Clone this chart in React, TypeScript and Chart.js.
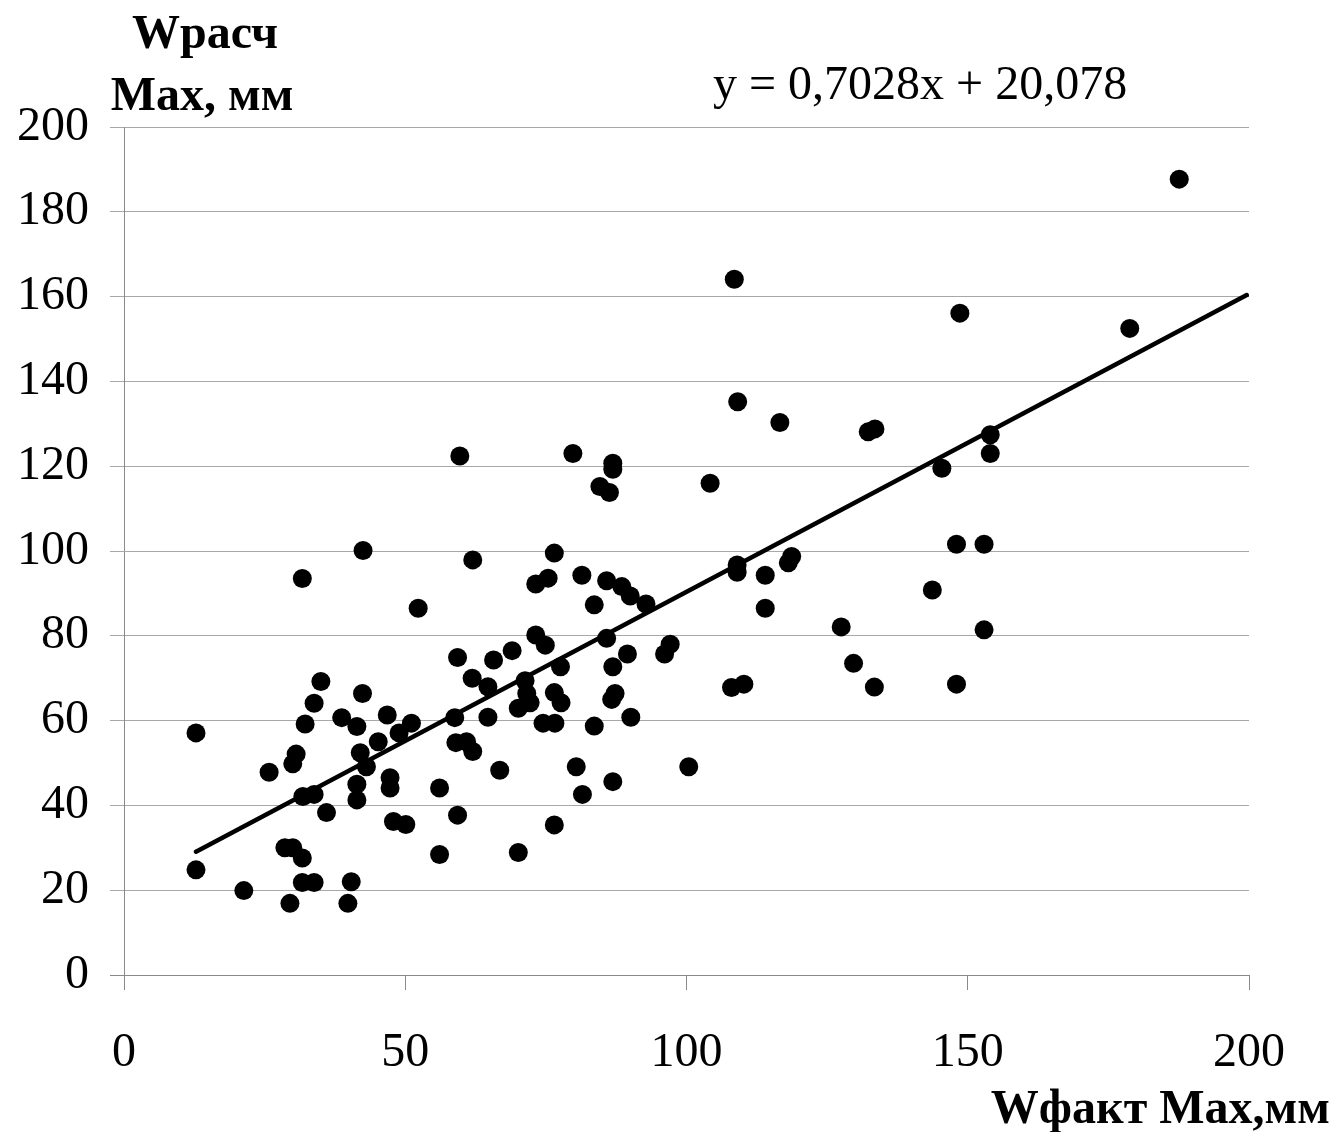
import React, { useEffect, useRef } from "react";
import { Chart, registerables } from "chart.js";

Chart.register(...registerables);

// Measured (Wфакт Max, мм)
const wFakt: number[] = [
  12.8, 12.8, 21.3, 25.8, 28.6, 30.0, 29.5, 30.0, 30.6, 31.7,
  31.7, 31.8, 31.7, 32.2, 33.8, 33.8, 33.8, 35.0, 36.0, 38.7,
  39.8, 40.4, 41.4, 41.4, 41.4, 42.0, 42.4, 42.5, 43.1, 45.2,
  46.8, 47.3, 47.3, 47.9, 48.9, 50.1, 51.1, 52.3, 56.1, 56.1,
  58.8, 59.3, 59.0, 59.3, 59.7, 60.9, 62.0, 61.9, 62.0, 64.7,
  64.7, 65.7, 66.8, 69.0, 70.1, 70.1, 71.3, 71.6, 72.2, 73.2,
  73.2, 74.5, 74.9, 75.4, 76.5, 76.5, 76.6, 76.5, 77.7, 77.6,
  79.8, 80.4, 81.4, 81.5, 83.6, 83.6, 84.6, 85.8, 85.8, 86.3,
  86.9, 86.9, 86.9, 86.7, 87.3, 86.9, 88.5, 90.0, 89.5, 90.1,
  92.8, 96.1, 97.1, 100.4, 104.2, 108.0, 108.5, 109.0, 109.0, 109.1,
  110.2, 114.0, 114.0, 116.6, 118.1, 118.7, 127.5, 129.7, 132.3, 133.5,
  133.4, 143.7, 145.4, 148.0, 148.0, 148.6, 152.9, 152.9, 154.0, 154.0,
  178.8, 187.6,
];

// Calculated (Wрасч Max, мм)
const wRasch: number[] = [
  57.1, 24.8, 19.9, 47.8, 30.0, 30.0, 16.9, 49.8, 52.1, 93.5,
  27.6, 42.1, 21.8, 59.2, 21.8, 64.1, 42.6, 69.2, 38.3, 60.7,
  16.9, 22.0, 58.6, 45.0, 41.3, 52.4, 66.4, 100.1, 49.1, 55.0,
  61.3, 46.5, 44.1, 36.2, 57.1, 35.5, 59.4, 86.5, 44.1, 28.4,
  60.7, 74.9, 54.8, 37.7, 122.4, 55.0, 97.9, 70.0, 52.7, 68.0,
  60.8, 74.3, 48.3, 76.5, 62.9, 28.9, 69.4, 66.4, 64.2, 92.2,
  80.2, 59.4, 77.8, 93.6, 66.6, 99.5, 59.4, 35.4, 64.2, 72.7,
  123.0, 49.1, 94.3, 42.6, 58.7, 87.3, 115.2, 93.0, 79.4, 113.8,
  119.3, 120.7, 72.7, 65.0, 66.4, 45.6, 91.6, 89.4, 75.7, 60.8,
  87.5, 75.7, 78.0, 49.1, 116.0, 67.8, 164.1, 96.7, 95.0, 135.2,
  68.6, 94.3, 86.5, 130.3, 97.2, 98.7, 82.1, 73.5, 128.1, 128.8,
  67.9, 90.8, 119.5, 101.6, 68.6, 156.1, 101.6, 81.4, 127.4, 123.0,
  152.5, 187.7,
];

// Linear trend line y = 0,7028x + 20,078
const trendSlope = 0.7028;
const trendIntercept = 20.078;
const trendRangeX: number[] = [12.8, 199.6];
const equationLabel = "y = 0,7028x + 20,078";

const xTicks: number[] = [0, 50, 100, 150, 200];
const yTicks: number[] = [0, 20, 40, 60, 80, 100, 120, 140, 160, 180, 200];

const yTitleLines: string[] = ["Wрасч", "Max, мм"];
const xTitle = "Wфакт Max,мм";

const FONT = '"Liberation Serif", "Times New Roman", serif';

const textPlugin = {
  id: "textLabels",
  afterDraw(chart: any) {
    const ctx = chart.ctx as CanvasRenderingContext2D;
    ctx.save();
    ctx.fillStyle = "#000";
    ctx.textBaseline = "alphabetic";
    // y title
    ctx.font = `bold 48px ${FONT}`;
    ctx.textAlign = "center";
    ctx.fillText(yTitleLines[0], 205, 48);
    ctx.fillText(yTitleLines[1], 202, 110);
    // x title
    ctx.textAlign = "right";
    ctx.fillText(xTitle, 1330, 1123);
    // equation
    ctx.font = `48px ${FONT}`;
    ctx.textAlign = "left";
    ctx.fillText(equationLabel, 713, 99);
    ctx.restore();
  },
};

export default function App() {
  const canvasRef = useRef<HTMLCanvasElement | null>(null);

  useEffect(() => {
    if (!canvasRef.current) return;
    const points = wFakt.map((x, i) => ({ x, y: wRasch[i] }));
    const trend = trendRangeX.map((x) => ({ x, y: trendSlope * x + trendIntercept }));

    const chart = new Chart(canvasRef.current, {
      type: "scatter",
      data: {
        datasets: [
          {
            label: "data",
            data: points,
            backgroundColor: "#000",
            borderColor: "#000",
            borderWidth: 0,
            pointRadius: 9.5,
            pointHoverRadius: 9.5,
            order: 2,
          },
          {
            label: "trend",
            data: trend,
            showLine: true,
            borderColor: "#000",
            borderWidth: 4.5,
            borderCapStyle: "round",
            pointRadius: 0,
            pointHoverRadius: 0,
            fill: false,
            order: 1,
          } as any,
        ],
      },
      options: {
        responsive: false,
        animation: false,
        devicePixelRatio: 1,
        layout: { padding: { top: 127, right: 86, left: 0, bottom: 0 } },
        plugins: {
          legend: { display: false },
          tooltip: { enabled: false },
          title: { display: false },
        },
        scales: {
          x: {
            type: "linear",
            min: 0,
            max: 200,
            afterFit(scale: any) {
              scale.height = 157;
            },
            afterBuildTicks(scale: any) {
              scale.ticks = xTicks.map((v) => ({ value: v }));
            },
            ticks: {
              color: "#000",
              padding: 35,
              font: { family: FONT, size: 48 },
              maxRotation: 0,
            },
            grid: {
              drawOnChartArea: false,
              drawTicks: true,
              tickLength: 15,
              color: "#8a8a8a",
            },
            border: { display: true, color: "#8a8a8a", width: 1 },
          },
          y: {
            type: "linear",
            min: 0,
            max: 200,
            afterFit(scale: any) {
              scale.width = 124;
            },
            afterBuildTicks(scale: any) {
              scale.ticks = yTicks.map((v) => ({ value: v }));
            },
            ticks: {
              color: "#000",
              padding: 21,
              font: { family: FONT, size: 48 },
            },
            grid: {
              color: (c: any) => (c.tick && c.tick.value === 0 ? "#8a8a8a" : "#a8a8a8"),
              tickLength: 14,
              drawTicks: true,
            },
            border: { display: true, color: "#8a8a8a", width: 1 },
          },
        },
      },
      plugins: [textPlugin],
    });
    return () => chart.destroy();
  }, []);

  return (
    <div style={{ position: "absolute", left: 0, top: 0, width: 1335, height: 1132, background: "#fff" }}>
      <canvas ref={canvasRef} width={1335} height={1132} style={{ width: 1335, height: 1132 }} />
    </div>
  );
}
